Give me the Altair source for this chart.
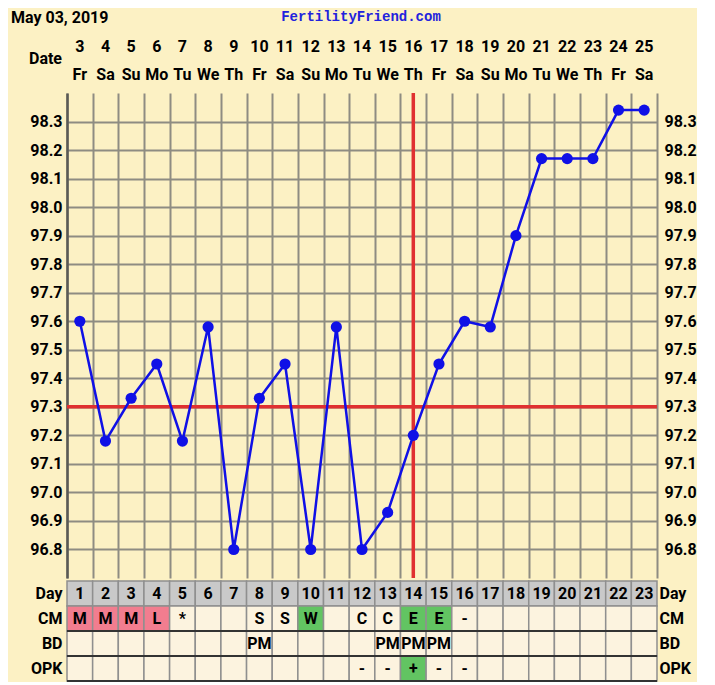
import altair as alt
import pandas as pd

# ---------------- data ----------------
days = list(range(1, 24))
dates = list(range(3, 26))
weekdays = ["Fr", "Sa", "Su", "Mo", "Tu", "We", "Th", "Fr", "Sa", "Su", "Mo", "Tu",
            "We", "Th", "Fr", "Sa", "Su", "Mo", "Tu", "We", "Th", "Fr", "Sa"]
temps = [97.60, 97.18, 97.33, 97.45, 97.18, 97.58, 96.80, 97.33, 97.45, 96.80, 97.58, 96.80,
         96.93, 97.20, 97.45, 97.60, 97.58, 97.90, 98.17, 98.17, 98.17, 98.34, 98.34]
cm = ["M", "M", "M", "L", "*", "", "", "S", "S", "W", "", "C", "C", "E", "E", "-",
      "", "", "", "", "", "", ""]
bd = ["", "", "", "", "", "", "", "PM", "", "", "", "", "PM", "PM", "PM",
      "", "", "", "", "", "", "", ""]
opk = ["", "", "", "", "", "", "", "", "", "", "", "-", "-", "+", "-", "-",
       "", "", "", "", "", "", ""]
y_ticks = [96.8, 96.9, 97.0, 97.1, 97.2, 97.3, 97.4, 97.5, 97.6, 97.7, 97.8, 97.9,
           98.0, 98.1, 98.2, 98.3]
coverline = [97.3]
ovulation_day = [14]
row_names = ["Day", "CM", "BD", "OPK"]
chart_date = "May 03, 2019"
site = "FertilityFriend.com"

# ---------------- styles ----------------
BG = "#FCF1C4"
GRID = "#8E8C82"
BLUE = "#1010E6"
RED = "#E03030"
FONT = "Roboto"
W = 590
H_TOP = 485
H_TAB = 100

temp_df = pd.DataFrame({"day": days, "temp": temps, "date": dates, "wd": weekdays})

x_scale = alt.Scale(domain=[0.5, 23.5], nice=False, zero=False)
y_scale = alt.Scale(domain=[96.7, 98.4], nice=False, zero=False)
grid_x = [d + 0.5 for d in range(0, 24)]

x_enc = alt.X("day:Q", scale=x_scale,
              axis=alt.Axis(values=grid_x, grid=True, gridColor=GRID, gridWidth=2,
                            gridOpacity=1, labels=False, ticks=False, domain=False,
                            title=None))

left_axis = alt.Axis(values=y_ticks, format=".1f", grid=True, gridColor=GRID, gridWidth=2,
                     gridOpacity=1, ticks=False, domainColor="#5A5A55", domainWidth=2.5,
                     labelFontSize=16, labelFontWeight="bold", labelPadding=5,
                     labelColor="black", labelFont=FONT, title=None)
right_axis = alt.Axis(values=y_ticks, format=".1f", orient="right", grid=False, ticks=False,
                      domain=False, labelFontSize=16, labelFontWeight="bold", labelPadding=7,
                      labelColor="black", labelFont=FONT, title=None)

line = alt.Chart(temp_df).mark_line(color=BLUE, strokeWidth=2.5).encode(
    x=x_enc, y=alt.Y("temp:Q", scale=y_scale, axis=left_axis))
points = alt.Chart(temp_df).mark_circle(size=125, color=BLUE, opacity=1).encode(
    x=x_enc, y=alt.Y("temp:Q", scale=y_scale, axis=right_axis))

hrule = alt.Chart(pd.DataFrame({"v": coverline})).mark_rule(color=RED, strokeWidth=3.5).encode(
    y=alt.Y("v:Q", scale=y_scale, axis=None))
vrule = alt.Chart(pd.DataFrame({"day": ovulation_day})).mark_rule(color=RED, strokeWidth=3.5).encode(
    x=x_enc)

date_txt = alt.Chart(temp_df).mark_text(font=FONT, fontSize=16, fontWeight="bold",
                                        color="black").encode(
    x=x_enc, y=alt.value(-46), text="date:N")
wd_txt = alt.Chart(temp_df).mark_text(font=FONT, fontSize=16, fontWeight="bold",
                                      color="black").encode(
    x=x_enc, y=alt.value(-18), text="wd:N")
date_lbl = alt.Chart(pd.DataFrame({"t": ["Date"]})).mark_text(
    font=FONT, fontSize=16, fontWeight="bold", color="black", align="right").encode(
    x=alt.value(-5), y=alt.value(-34), text="t:N")
title_txt = alt.Chart(pd.DataFrame({"t": [chart_date]})).mark_text(
    font=FONT, fontSize=16, fontWeight="bold", color="black", align="left").encode(
    x=alt.value(-56), y=alt.value(-75), text="t:N")
site_txt = alt.Chart(pd.DataFrame({"t": [site]})).mark_text(
    font="Liberation Mono", fontSize=14, fontWeight="bold", color="#2222DD").encode(
    x=alt.value(294), y=alt.value(-76), text="t:N")

top = alt.layer(hrule, vrule, line, points, date_txt, wd_txt, date_lbl, title_txt, site_txt).resolve_axis(
    y="independent").properties(width=W, height=H_TOP)

# ---------------- table ----------------
recs = []
for i, d in enumerate(days):
    cells = [("Day", str(d), "gray"),
             ("CM", cm[i], "pink" if cm[i] in ("M", "L") else ("green" if cm[i] in ("W", "E") else "plain")),
             ("BD", bd[i], "plain"),
             ("OPK", opk[i], "green" if opk[i] == "+" else "plain")]
    for r, lab, kind in cells:
        recs.append({"day": d, "x0": d - 0.5, "x1": d + 0.5, "row": r, "label": lab, "kind": kind})
tab_df = pd.DataFrame(recs)

row_scale = alt.Scale(domain=row_names, paddingInner=0, paddingOuter=0)
row_left = alt.Axis(orient="left", domain=False, ticks=False, labelFontSize=16,
                    labelFontWeight="bold", labelPadding=5, labelColor="black",
                    labelFont=FONT, title=None)
row_right = alt.Axis(orient="right", domain=False, ticks=False, labelFontSize=16,
                     labelFontWeight="bold", labelPadding=2, labelColor="black",
                     labelFont=FONT, title=None)

cells = alt.Chart(tab_df).mark_rect(stroke="#8F8F8F", strokeWidth=1.5).encode(
    x=alt.X("x0:Q", scale=x_scale, axis=None), x2="x1:Q",
    y=alt.Y("row:N", scale=row_scale, axis=row_left),
    color=alt.Color("kind:N", legend=None,
                    scale=alt.Scale(domain=["plain", "gray", "pink", "green"],
                                    range=["#FCF3DF", "#C9C9C9", "#F27D8F", "#62C462"])))
cell_txt = alt.Chart(tab_df).mark_text(font=FONT, fontSize=16, fontWeight="bold",
                                       color="black").encode(
    x=alt.X("day:Q", scale=x_scale, axis=None),
    y=alt.Y("row:N", scale=row_scale, axis=row_right),
    text="label:N")
row_lines = alt.Chart(pd.DataFrame({"row": ["CM", "BD", "OPK"]})).mark_rule(
    color="#333333", strokeWidth=2).encode(
    y=alt.Y("row:N", scale=row_scale, bandPosition=1, axis=None),
    x=alt.value(0), x2=alt.value(W))

table = alt.layer(cells, row_lines, cell_txt).resolve_axis(y="independent").properties(
    width=W, height=H_TAB)

chart = alt.vconcat(top, table, spacing=0).properties(
    padding={"left": 3, "top": 2, "right": 0, "bottom": 0},
    background=BG).configure_view(stroke=None, fill=BG)

chart.save("out.html", embed_options={"renderer": "svg", "actions": False})
